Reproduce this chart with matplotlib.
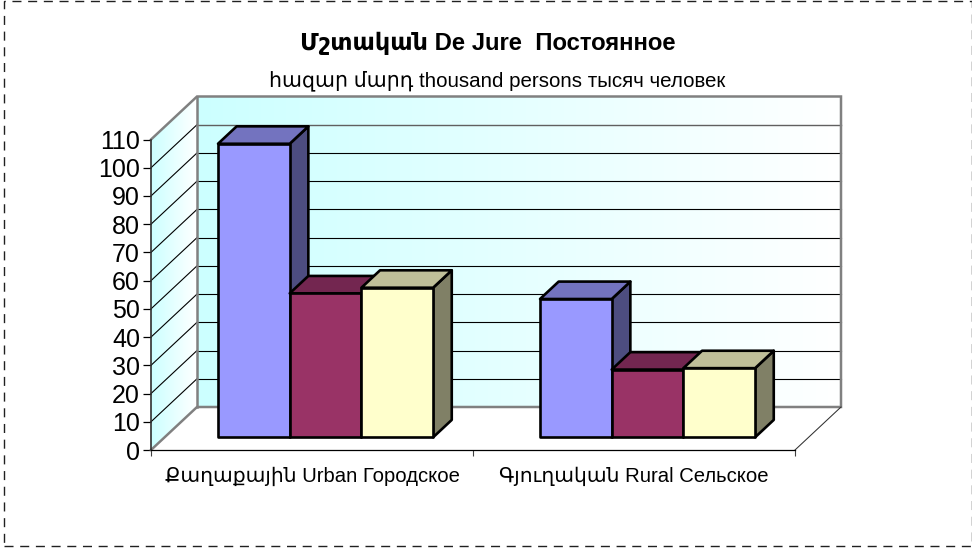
import matplotlib
matplotlib.use("Agg")
import matplotlib.pyplot as plt
import numpy as np
from matplotlib.patches import Polygon, Rectangle

categories = ["Քաղաքային Urban Городское", "Գյուղական Rural Сельское"]
series_1 = [104, 49]
series_2 = [51, 24]
series_3 = [53, 24.5]
y_ticks = list(range(0, 111, 10))
title = "Մշտական De Jure  Постоянное"
subtitle = "հազար մարդ thousand persons тысяч человек"

FONT = ["Liberation Sans", "DejaVu Sans"]
plt.rcParams["font.family"] = FONT
W, H = 972, 551
fig = plt.figure(figsize=(W / 100, H / 100), dpi=100, facecolor="white")
ax = fig.add_axes([151 / W, (H - 450) / H, 644 / W, 310.5 / H])
XMAX, YMAX = 2, 110
DX = 46 / 322
DY = 43 / (310.5 / 110)


def pr(x, y, d=0.0):
    return (x + d * DX, y + d * DY)


def wall(points, cmap_from, cmap_to, xr, z):
    grad = np.linspace(0, 1, 256)[None, :, None]
    c0 = np.array(matplotlib.colors.to_rgb(cmap_from))
    c1 = np.array(matplotlib.colors.to_rgb(cmap_to))
    img = c0 + (c1 - c0) * grad
    im = ax.imshow(img, extent=[xr[0], xr[1], -5, 140], aspect="auto", zorder=z, interpolation="bilinear")
    p = Polygon(points, closed=True, transform=ax.transData, fill=False, edgecolor="none")
    im.set_clip_box(fig.bbox)
    im.set_clip_path(p)


GRAY = "#808080"
back = [pr(0, 0, 1), pr(XMAX, 0, 1), pr(XMAX, YMAX, 1), pr(0, YMAX, 1)]
side = [pr(0, 0, 0), pr(0, 0, 1), pr(0, YMAX, 1), pr(0, YMAX, 0)]
wall(back, "#CCFFFF", "#FFFFFF", (DX, XMAX + DX), 1)
wall(side, "#CCFFFF", "#FFFFFF", (0, DX), 1)

# gridlines on both walls
for v in y_ticks[1:-1]:
    xs, ys = zip(pr(0, v, 0), pr(0, v, 1))
    ax.plot(xs, ys, color="black", lw=0.8, zorder=2, clip_on=False)
    xs, ys = zip(pr(0, v, 1), pr(XMAX, v, 1))
    top_line = v == y_ticks[-2]
    ax.plot(xs, ys, color="#606060" if top_line else "black", lw=1.0 if top_line else 0.8,
            zorder=2, clip_on=False)
# wall outlines
xs, ys = zip(pr(0, YMAX, 0), pr(0, YMAX, 1), pr(XMAX, YMAX, 1), pr(XMAX, 0, 1), pr(0, 0, 1), pr(0, 0, 0))
ax.plot(xs, ys, color=GRAY, lw=1.8, zorder=2.5, clip_on=False, solid_joinstyle="miter")
xs, ys = zip(pr(0, 0, 1), pr(0, YMAX, 1))
ax.plot(xs, ys, color=GRAY, lw=1.8, zorder=2.5, clip_on=False)
xs, ys = zip(pr(XMAX, 0, 0), pr(XMAX, 0, 1))
ax.plot(xs, ys, color="#303030", lw=0.75, zorder=2.5, clip_on=False)

# bars
faces = [("#9999FF", "#7373BF", "#4D4D80"), ("#993366", "#732650", "#4D1A33"), ("#FFFFCC", "#BFBF99", "#808066")]
BAR_W = 71.7 / 322
D0, D1 = 0.295, 0.70
all_series = [series_1, series_2, series_3]
edge = dict(edgecolor="black", linewidth=1.9, joinstyle="round", clip_on=False)
z = 3
for c in range(len(categories)):
    for s, vals in enumerate(all_series):
        v = vals[c]
        x0 = c + 0.5 + (s - 1.5) * BAR_W
        x1 = x0 + BAR_W
        front, top, right = faces[s]
        ax.add_patch(Polygon([pr(x1, 0, D0), pr(x1, 0, D1), pr(x1, v, D1), pr(x1, v, D0)], facecolor=right, zorder=z, **edge))
        ax.add_patch(Polygon([pr(x0, v, D0), pr(x0, v, D1), pr(x1, v, D1), pr(x1, v, D0)], facecolor=top, zorder=z, **edge))
        ax.add_patch(Polygon([pr(x0, 0, D0), pr(x1, 0, D0), pr(x1, v, D0), pr(x0, v, D0)], facecolor=front, zorder=z, **edge))
        z += 0.1

ax.set_xlim(0, XMAX)
ax.set_ylim(0, YMAX)
ax.patch.set_visible(False)
for s in ("top", "right"):
    ax.spines[s].set_visible(False)
ax.spines["left"].set_linewidth(1.2)
ax.spines["left"].set_color("#303030")
ax.spines["bottom"].set_linewidth(0.9)
for s in ("left", "bottom"):
    ax.spines[s].set_zorder(10)
ax.set_yticks(y_ticks)
ax.tick_params(axis="y", labelsize=18, length=5.5, width=0.9, pad=2.5, colors="black")
ax.set_xticks([0, 1, 2])
ax.set_xticklabels([])
ax.tick_params(axis="x", length=4.3, width=0.8, color="#404040")
ax.set_xticks([0.5, 1.5], minor=True)
ax.set_xticklabels(categories, minor=True)
ax.tick_params(axis="x", which="minor", length=0, labelsize=14.6, pad=12)

fig.text(487.5 / W, 1 - 43 / H, title, ha="center", va="center", fontsize=17.2, fontweight="bold")
fig.text(497 / W, 1 - 81 / H, subtitle, ha="center", va="center", fontsize=14.8)

# dashed outer border
fig.add_artist(Rectangle((3.5 / W, 1 - 546 / H), (971.5 - 3.5) / W, (546 - 0.7) / H, transform=fig.transFigure,
                         fill=False, edgecolor="#202020", lw=1.0, linestyle=(0, (6.5, 4.8))))

fig.savefig("out.png", dpi=100)
